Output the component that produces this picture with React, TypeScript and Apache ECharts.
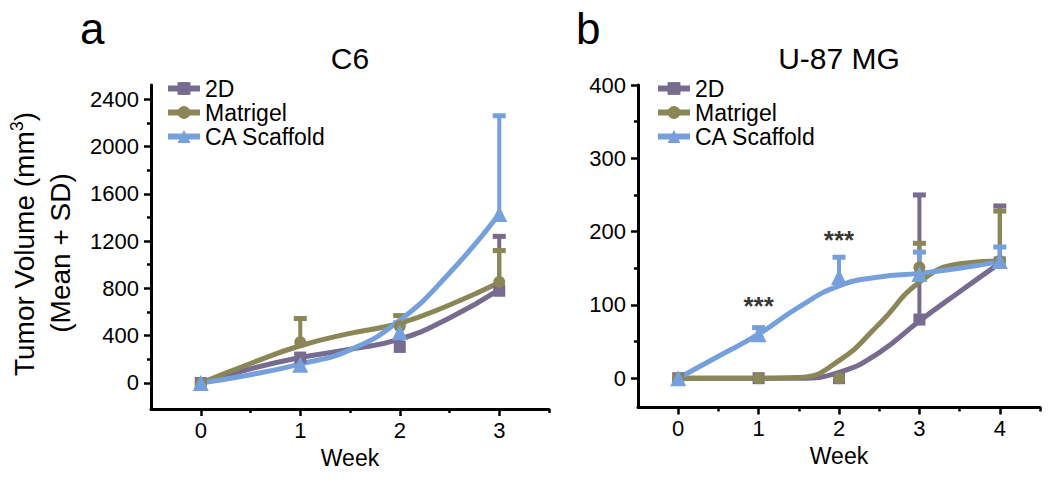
import React, { useEffect, useRef } from "react";
import * as echarts from "echarts";

// ---------- Data ----------
// Panel a: C6 — measured means (markers) and mean + SD (error-bar tops)
const weeksC6 = [0, 1, 2, 3];
const c6_2D = [0, 215, 305, 780];
const c6_2D_sd = [null, null, null, 1240];
const c6_Matrigel = [0, 345, 480, 855];
const c6_Matrigel_sd = [null, 545, 570, 1120];
const c6_CA = [0, 155, 430, 1430];
const c6_CA_sd = [null, null, 510, 2260];

// Panel a: fitted curves as drawn in the figure
const curveWeeksC6 = [0, 0.5, 1, 1.5, 2, 2.5, 3];
const c6_2D_curve = [0, 120, 215, 285, 370, 550, 790];
const c6_Matrigel_curve = [0, 165, 315, 420, 505, 660, 850];
const c6_CA_curve = [0, 70, 160, 280, 530, 930, 1430];

// Panel b: U-87 MG
const weeksU87 = [0, 1, 2, 3, 4];
const u87_2D = [0, 0, 0, 80, 158];
const u87_2D_sd = [null, null, null, 250, 235];
const u87_Matrigel = [0, 0, 0, 151, 160];
const u87_Matrigel_sd = [null, null, null, 184, 228];
const u87_CA = [0, 60, 138, 142, 160];
const u87_CA_sd = [null, 69, 165, 172, 179];

// Panel b: fitted curves as drawn in the figure
const curveWeeksU87 = [0, 0.5, 1, 1.5, 2, 2.5, 3, 3.5, 4];
const u87_2D_curve = [0, 0, 0, 0, 8, 35, 78, 118, 157];
const u87_Matrigel_curve = [0, 0, 0, 1, 24, 74, 131, 156, 160];
const u87_CA_curve = [0, 30, 60, 97, 126, 138, 143, 150, 159];

// significance marks (panel b)
const starWeeks = [1, 2];
const starValues = [98, 188];
const starText = "***";

const groupNames = ["2D", "Matrigel", "CA Scaffold"];
const groupColors = ["#776b8f", "#8b8655", "#76a0dc"];
const groupSymbols = ["rect", "circle", "triangle"];
const groupSymbolSizes = [12, 12, 16];

const yTicksC6 = [0, 400, 800, 1200, 1600, 2000, 2400];
const yMinorC6 = [200, 600, 1000, 1400, 1800, 2200];
const xTicksC6 = [0, 1, 2, 3];
const xMinorC6 = [0.5, 1.5, 2.5, 3.5];
const yTicksU87 = [0, 100, 200, 300, 400];
const yMinorU87 = [50, 150, 250, 350];
const xTicksU87 = [0, 1, 2, 3, 4];
const xMinorU87 = [0.5, 1.5, 2.5, 3.5, 4.5];

const FONT = "'Liberation Sans', Arial, Helvetica, sans-serif";

function pairs(xs: number[], ys: number[]) {
  return xs.map((x, i) => [x, ys[i]]);
}
function errRows(xs: number[], ys: number[], tops: (number | null)[]) {
  const out: number[][] = [];
  xs.forEach((x, i) => {
    if (tops[i] != null) out.push([x, ys[i], tops[i] as number]);
  });
  return out;
}

function mainAxis(gridIndex: number, min: number, max: number, ticks: number[], isX: boolean) {
  return {
    type: "value",
    gridIndex,
    min,
    max,
    axisLine: { show: true, onZero: false, lineStyle: { color: "#000", width: 3 } },
    axisTick: { show: true, customValues: ticks, length: 7, lineStyle: { color: "#000", width: 2.5 } },
    axisLabel: {
      show: true,
      customValues: ticks,
      formatter: (v: number) => String(v),
      color: "#000",
      fontSize: 22,
      fontFamily: FONT,
      margin: isX ? 10 : 12,
    },
    splitLine: { show: false },
    ...(isX
      ? {
          name: "Week",
          nameLocation: "middle",
          nameGap: 37,
          nameTextStyle: { color: "#000", fontSize: 23, fontFamily: FONT },
        }
      : {}),
  };
}
function minorAxis(gridIndex: number, min: number, max: number, ticks: number[]) {
  return {
    type: "value",
    gridIndex,
    min,
    max,
    axisLine: { show: false, onZero: false },
    axisTick: { show: true, customValues: ticks, length: 4, lineStyle: { color: "#000", width: 2.5 } },
    axisLabel: { show: false },
    splitLine: { show: false },
  };
}

function errSeries(axisIdx: number, color: string, rows: number[][]) {
  return {
    type: "custom",
    xAxisIndex: axisIdx,
    yAxisIndex: axisIdx,
    z: 1,
    silent: true,
    encode: { x: 0, y: [1, 2] },
    data: rows,
    renderItem: (params: any, api: any) => {
      const x = api.value(0);
      const m = api.value(1);
      const t = api.value(2);
      const p0 = api.coord([x, m]);
      const p1 = api.coord([x, t]);
      return {
        type: "group",
        children: [
          {
            type: "line",
            shape: { x1: p0[0], y1: p0[1], x2: p1[0], y2: p1[1] },
            style: { stroke: color, lineWidth: 4 },
          },
          {
            type: "rect",
            shape: { x: p1[0] - 6.5, y: p1[1] - 2.5, width: 13, height: 5 },
            style: { fill: color },
          },
        ],
      };
    },
  };
}

function curveSeries(axisIdx: number, g: number, xs: number[], ys: number[]) {
  return {
    type: "line",
    name: groupNames[g],
    xAxisIndex: axisIdx,
    yAxisIndex: axisIdx,
    z: 2,
    data: pairs(xs, ys),
    smooth: 0.5,
    symbol: groupSymbols[g],
    symbolSize: groupSymbolSizes[g],
    showSymbol: false,
    lineStyle: { color: groupColors[g], width: 5 },
    itemStyle: { color: groupColors[g] },
    emphasis: { disabled: true },
    silent: true,
  };
}

function markerSeries(axisIdx: number, g: number, xs: number[], ys: number[]) {
  return {
    type: "scatter",
    xAxisIndex: axisIdx,
    yAxisIndex: axisIdx,
    z: 3,
    data: pairs(xs, ys),
    symbol: groupSymbols[g],
    symbolSize: groupSymbolSizes[g],
    itemStyle: { color: groupColors[g], opacity: 1 },
    emphasis: { disabled: true },
    silent: true,
  };
}

function legend(left: number) {
  return {
    orient: "vertical",
    left,
    top: 72,
    data: groupNames,
    itemWidth: 32,
    itemHeight: 16,
    itemGap: 1,
    selectedMode: false,
    lineStyle: { width: 6 },
    textStyle: { color: "#000", fontSize: 23, lineHeight: 22, fontFamily: FONT },
  };
}

export default function App() {
  const ref = useRef<HTMLDivElement>(null);
  useEffect(() => {
    if (!ref.current) return;
    const chart = echarts.init(ref.current, null, { renderer: "svg" });
    const c6Sd = [c6_2D_sd, c6_Matrigel_sd, c6_CA_sd];
    const c6Vals = [c6_2D, c6_Matrigel, c6_CA];
    const c6Curves = [c6_2D_curve, c6_Matrigel_curve, c6_CA_curve];
    const uSd = [u87_2D_sd, u87_Matrigel_sd, u87_CA_sd];
    const uVals = [u87_2D, u87_Matrigel, u87_CA];
    const uCurves = [u87_2D_curve, u87_Matrigel_curve, u87_CA_curve];
    const series: any[] = [];
    for (let g = 0; g < 3; g++) series.push(curveSeries(0, g, curveWeeksC6, c6Curves[g]));
    for (let g = 0; g < 3; g++) series.push(curveSeries(2, g, curveWeeksU87, uCurves[g]));
    for (let g = 0; g < 3; g++) series.push(errSeries(0, groupColors[g], errRows(weeksC6, c6Vals[g], c6Sd[g])));
    for (let g = 0; g < 3; g++) series.push(errSeries(2, groupColors[g], errRows(weeksU87, uVals[g], uSd[g])));
    for (let g = 0; g < 3; g++) series.push(markerSeries(0, g, weeksC6, c6Vals[g]));
    for (let g = 0; g < 3; g++) series.push(markerSeries(2, g, weeksU87, uVals[g]));
    series.push({
      type: "scatter",
      xAxisIndex: 2,
      yAxisIndex: 2,
      silent: true,
      z: 4,
      symbolSize: 1,
      itemStyle: { color: "rgba(0,0,0,0)" },
      data: pairs(starWeeks, starValues),
      label: {
        show: true,
        position: "inside",
        formatter: starText,
        color: "#000",
        fontSize: 26,
        fontWeight: "bold",
        fontFamily: FONT,
      },
    });

    chart.setOption({
      animation: false,
      backgroundColor: "#fff",
      textStyle: { fontFamily: FONT },
      grid: [
        { left: 151, top: 85, width: 398, height: 324 },
        { left: 151, top: 85, width: 398, height: 324 },
        { left: 638, top: 85, width: 402, height: 322.5 },
        { left: 638, top: 85, width: 402, height: 322.5 },
      ],
      xAxis: [
        mainAxis(0, -0.5, 3.5, xTicksC6, true),
        minorAxis(1, -0.5, 3.5, xMinorC6),
        mainAxis(2, -0.5, 4.5, xTicksU87, true),
        minorAxis(3, -0.5, 4.5, xMinorU87),
      ],
      yAxis: [
        mainAxis(0, -220, 2520, yTicksC6, false),
        minorAxis(1, -220, 2520, yMinorC6),
        mainAxis(2, -40, 400, yTicksU87, false),
        minorAxis(3, -40, 400, yMinorU87),
      ],
      legend: [legend(160), legend(650)],
      series,
      graphic: [
        { type: "text", x: 80, y: 28, style: { text: "a", fontSize: 44, fontFamily: FONT, fill: "#000", align: "left", verticalAlign: "middle" } },
        { type: "text", x: 576, y: 28, style: { text: "b", fontSize: 44, fontFamily: FONT, fill: "#000", align: "left", verticalAlign: "middle" } },
        { type: "text", x: 350, y: 58, style: { text: "C6", fontSize: 30, fontFamily: FONT, fill: "#000", align: "center", verticalAlign: "middle" } },
        { type: "text", x: 839, y: 58, style: { text: "U-87 MG", fontSize: 30, fontFamily: FONT, fill: "#000", align: "center", verticalAlign: "middle" } },
        {
          type: "text",
          x: 24,
          y: 244,
          rotation: Math.PI / 2,
          style: {
            text: "{n|Tumor Volume (mm}{s|3}{n|)}",
            align: "center",
            verticalAlign: "middle",
            fill: "#000",
            rich: {
              n: { fontSize: 28, fontFamily: FONT, fill: "#000", lineHeight: 32 },
              s: { fontSize: 18, fontFamily: FONT, fill: "#000", verticalAlign: "top", lineHeight: 32 },
            },
          },
        },
        {
          type: "text",
          x: 60,
          y: 253,
          rotation: Math.PI / 2,
          style: { text: "(Mean + SD)", fontSize: 28, fontFamily: FONT, fill: "#000", align: "center", verticalAlign: "middle" },
        },
      ],
    });
    return () => chart.dispose();
  }, []);
  return <div ref={ref} style={{ position: "absolute", left: 0, top: 0, width: 1050, height: 482 }} />;
}
